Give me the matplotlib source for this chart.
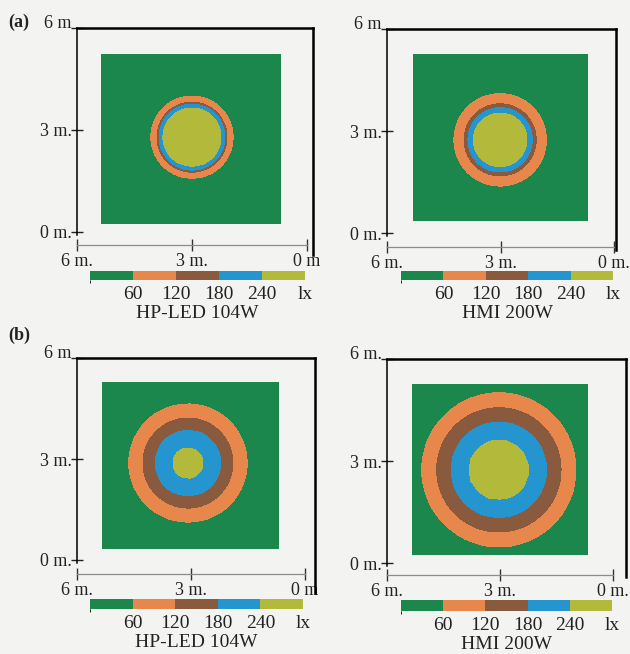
import numpy as np
import matplotlib
matplotlib.use("Agg")
import matplotlib.pyplot as plt
from matplotlib.colors import ListedColormap, BoundaryNorm

plt.rcParams['font.family'] = ['Liberation Serif', 'DejaVu Serif']

W, H = 630, 654

# Isolux bands (lx)
lux_levels = [0, 60, 120, 180, 240, 300]
lux_tick_labels = ['60', '120', '180', '240', 'lx']
band_colors = ['#1b874d', '#e8874b', '#8a5a3f', '#2495cf', '#b3ba3b']

lamp_names = ['HP-LED 104W', 'HMI 200W', 'HP-LED 104W', 'HMI 200W']
panel_tags = ['(a)', '(b)']

# Radial illuminance profiles: distance from the beam axis (m) -> illuminance (lx)
a_led_radius = [0.0, 0.76, 0.86, 0.91, 1.07, 1.45]
a_led_lux = [290, 240, 180, 120, 60, 10]
a_hmi_radius = [0.0, 0.71, 0.85, 0.95, 1.22, 1.6]
a_hmi_lux = [290, 240, 180, 120, 60, 10]
b_led_radius = [0.0, 0.40, 0.87, 1.18, 1.55, 1.95]
b_led_lux = [290, 240, 180, 120, 60, 10]
b_hmi_radius = [0.0, 0.80, 1.27, 1.65, 2.04, 2.45]
b_hmi_lux = [290, 240, 180, 120, 60, 10]

profiles = [(a_led_radius, a_led_lux), (a_hmi_radius, a_hmi_lux),
            (b_led_radius, b_led_lux), (b_hmi_radius, b_hmi_lux)]

# Beam axis position on the floor (m)
beam_centers = [(3.00, 2.79), (3.01, 2.74), (3.08, 2.88), (3.03, 2.74)]
# Calculation surface (x0, x1, y0, y1) in m
surfaces = [(0.68, 5.35, 0.26, 5.21), (0.71, 5.31, 0.38, 5.24),
            (0.71, 5.34, 0.33, 5.26), (0.69, 5.31, 0.26, 5.24)]
# Calculation points per side
grid_points = [400, 400, 31, 31]

axis_ticks = [0, 3, 6]
y_tick_labels = [['0 m.', '3 m.', '6 m'], ['0 m.', '3 m.', '6 m'],
                 ['0 m.', '3 m.', '6 m'], ['0 m.', '3 m.', '6 m.']]
x_tick_labels = [['6 m.', '3 m.', '0 m'], ['6 m.', '3 m.', '0 m.'],
                 ['6 m.', '3 m.', '0 m'], ['6 m.', '3 m.', '0 m.']]

# Panel frames in pixels: left, x(0 m), top(6 m), y(0 m), right, bottom, scale line
frames = [
    (77, 307, 28, 232, 313, 255, 245),
    (387, 614, 29, 233, 616, 250, 247),
    (77, 305, 358, 560, 315, 593, 574),
    (387, 613, 359, 563, 626, 577, 575),
]
# Colour bar boxes in pixels: x0, y0, x1, y1
cbar_boxes = [(90, 271, 305, 280), (401, 271, 613, 280),
              (90, 599, 303, 609), (401, 600, 612, 611)]

cmap = ListedColormap(band_colors)

fig = plt.figure(figsize=(W / 100, H / 100), dpi=100)
fig.patch.set_facecolor('#f3f3f1')


def px_rect(x0, y0, x1, y1):
    return [x0 / W, 1 - y1 / H, (x1 - x0) / W, (y1 - y0) / H]


for i in range(4):
    left, x0px, top, y0px, right, bottom, scale_px = frames[i]
    sx = (x0px - left) / 6.0
    sy = (y0px - top) / 6.0
    ax = fig.add_axes(px_rect(left, top, right, bottom))
    ax.set_facecolor('none')
    xmin = 6 - (right - left) / sx
    ymin = (y0px - bottom) / sy
    ax.set_xlim(6, xmin)
    ax.set_ylim(ymin, 6)

    # illuminance on the floor
    sx0, sx1, sy0, sy1 = surfaces[i]
    n = grid_points[i]
    X, Y = np.meshgrid(np.linspace(sx0, sx1, n), np.linspace(sy0, sy1, n))
    cx, cy = beam_centers[i]
    rr = np.hypot(X - cx, (Y - cy) * sy / sx)
    radius, lux = profiles[i]
    E = np.interp(rr, radius, lux)
    norm = BoundaryNorm(lux_levels, cmap.N)
    cs = ax.contourf(X, Y, E, levels=lux_levels, cmap=cmap, norm=norm)

    # frame
    ax.spines['bottom'].set_visible(False)
    ax.spines['top'].set_linewidth(1.8)
    ax.spines['right'].set_linewidth(1.8)
    ax.spines['left'].set_linewidth(1.1)
    ax.spines['left'].set_bounds(-3 / sy, 6)
    ax.set_xticks([])
    ax.set_yticks(axis_ticks)
    ax.set_yticklabels(y_tick_labels[i])
    ax.tick_params(axis='y', direction='inout', length=8, width=1,
                   labelsize=13, pad=0, colors='#222222')
    ax.yaxis.get_major_ticks()[2].label1.set_verticalalignment('baseline')

    # distance scale under the floor plan
    y_scale = (y0px - scale_px) / sy
    loc = (y_scale - ymin) / (6 - ymin)
    sec = ax.secondary_xaxis(loc)
    sec.set_xticks(axis_ticks[::-1])
    sec.set_xticklabels(x_tick_labels[i])
    sec.spines['bottom'].set_bounds(0, 6)
    sec.spines['bottom'].set_color('#8c8c8c')
    sec.spines['bottom'].set_linewidth(0.9)
    sec.tick_params(axis='x', direction='inout', length=8, width=1,
                    labelsize=13, pad=2, color='#333333', labelcolor='#222222')

    # colour bar
    cax = fig.add_axes(px_rect(*cbar_boxes[i]))
    cb = fig.colorbar(cs, cax=cax, orientation='horizontal')
    cb.set_ticks(lux_levels[1:], labels=lux_tick_labels)
    cb.outline.set_visible(False)
    cax.tick_params(length=0, labelsize=14, pad=4, labelcolor='#222222')
    cax.set_xlabel(lamp_names[i], fontsize=14, labelpad=2, color='#222222')

fig.text(8 / W, 1 - 22 / H, panel_tags[0], fontsize=13, fontweight='bold',
         va='center', ha='left', color='#222222')
fig.text(8 / W, 1 - 335 / H, panel_tags[1], fontsize=13, fontweight='bold',
         va='center', ha='left', color='#222222')

fig.savefig('out.png', dpi=100, facecolor=fig.get_facecolor())
